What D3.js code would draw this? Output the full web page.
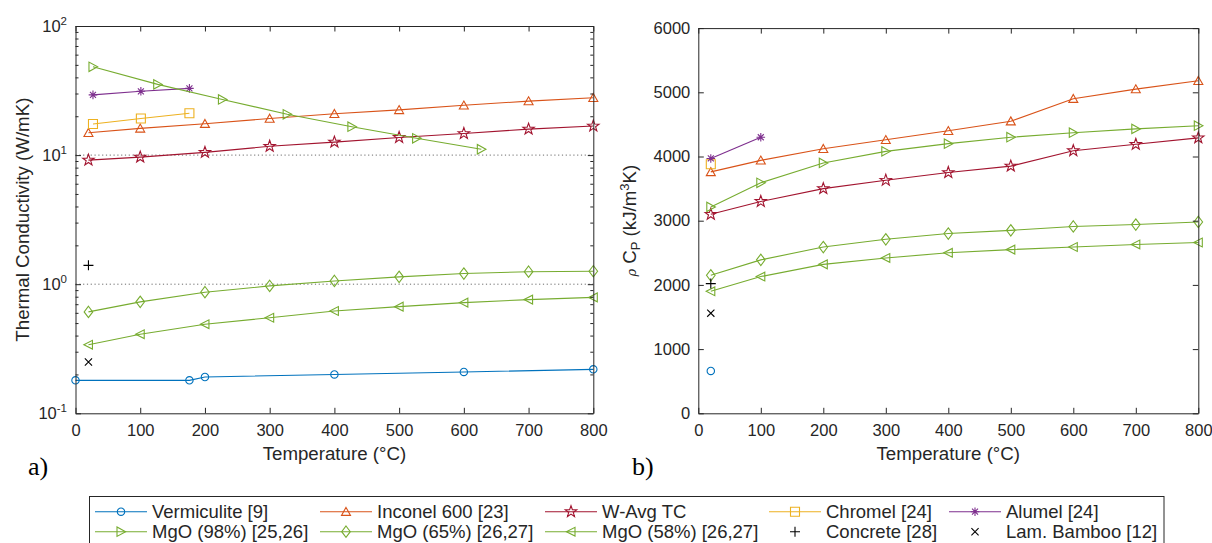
<!DOCTYPE html>
<html>
<head>
<meta charset="utf-8">
<script src="https://cdn.jsdelivr.net/npm/d3@7"></script>
<style>
  html, body { margin: 0; padding: 0; background: #fff; }
  svg { display: block; }
  text { font-family: "Liberation Sans", Arial, sans-serif; fill: #262626; }
</style>
</head>
<body>
<svg id="chart" width="1212" height="543"></svg>
<script>
// ---------------- DATA ----------------
const temps = [20, 100, 200, 300, 400, 500, 600, 700, 800];
const xTickValues = [0, 100, 200, 300, 400, 500, 600, 700, 800];
const kTickValues = [0.1, 1, 10, 100];
const kTickExponents = ["-1", "0", "1", "2"];
const cpTickValues = [0, 1000, 2000, 3000, 4000, 5000, 6000];

// (a) Thermal conductivity (W/mK)
const vermiculiteT_k = [0, 176, 200, 400, 600, 800];
const vermiculiteK = [0.18, 0.18, 0.191, 0.200, 0.209, 0.219];
const inconelK = [14.9, 16.1, 17.5, 19.2, 20.9, 22.4, 24.3, 26.2, 27.8];
const wavgK = [9.15, 9.65, 10.5, 11.7, 12.6, 13.7, 14.7, 15.9, 16.8];
const chromelT_k = [27, 101, 176];
const chromelK = [17.4, 19.2, 21.1];
const alumelT_k = [27, 101, 176];
const alumelK = [29.3, 31.2, 32.9];
const mgo98T_k = [27, 127, 227, 327, 427, 527, 627];
const mgo98K = [48.3, 35.3, 27.0, 20.7, 16.6, 13.5, 11.1];
const mgo65K = [0.61, 0.73, 0.867, 0.97, 1.06, 1.14, 1.21, 1.25, 1.26];
const mgo58K = [0.34, 0.41, 0.49, 0.55, 0.62, 0.67, 0.72, 0.76, 0.79];
const concreteT = [20];
const concreteK = [1.4];
const bambooT = [20];
const bambooK = [0.25];

// (b) Volumetric heat capacity rho*Cp (kJ/m3K)
const vermiculiteT_c = [20];
const vermiculiteCp = [660];
const inconelCp = [3760, 3940, 4120, 4260, 4400, 4550, 4900, 5050, 5180];
const wavgCp = [3100, 3300, 3500, 3630, 3750, 3850, 4090, 4190, 4290];
const chromelT_c = [20];
const chromelCp = [3880];
const alumelT_c = [20, 100];
const alumelCp = [3970, 4300];
const mgo98Cp = [3215, 3590, 3900, 4080, 4200, 4300, 4370, 4430, 4480];
const mgo65Cp = [2150, 2390, 2590, 2710, 2800, 2850, 2910, 2940, 2980];
const mgo58Cp = [1900, 2130, 2320, 2420, 2500, 2550, 2590, 2630, 2660];
const concreteCp = [2020];
const bambooCp = [1560];

const names = ["Vermiculite [9]", "Inconel 600 [23]", "W-Avg TC", "Chromel [24]", "Alumel [24]",
               "MgO (98%) [25,26]", "MgO (65%) [26,27]", "MgO (58%) [26,27]", "Concrete [28]", "Lam. Bamboo [12]"];
const colors = ["#0072BD", "#D95319", "#A2142F", "#EDB120", "#7E2F8E",
                "#77AC30", "#77AC30", "#77AC30", "#000000", "#000000"];
const markers = ["o", "^", "p", "s", "*", ">", "d", "<", "+", "x"];
const hasLine = [true, true, true, true, true, true, true, true, false, false];

const zip = (t, v) => t.map((d, i) => ({ t: d, v: v[i] }));
const seriesK = [
  zip(vermiculiteT_k, vermiculiteK), zip(temps, inconelK), zip(temps, wavgK),
  zip(chromelT_k, chromelK), zip(alumelT_k, alumelK), zip(mgo98T_k, mgo98K),
  zip(temps, mgo65K), zip(temps, mgo58K), zip(concreteT, concreteK), zip(bambooT, bambooK)
];
const seriesCp = [
  zip(vermiculiteT_c, vermiculiteCp), zip(temps, inconelCp), zip(temps, wavgCp),
  zip(chromelT_c, chromelCp), zip(alumelT_c, alumelCp), zip(temps, mgo98Cp),
  zip(temps, mgo65Cp), zip(temps, mgo58Cp), zip(concreteT, concreteCp), zip(bambooT, bambooCp)
];

// ---------------- MARKERS ----------------
function markerPath(m) {
  switch (m) {
    case "o": { const r = 3.7; return `M${r},0A${r},${r} 0 1,1 ${-r},0A${r},${r} 0 1,1 ${r},0Z`; }
    case "^": return "M0,-4.3L4.5,3.7L-4.5,3.7Z";
    case ">": return "M4.6,0L-4,-4.7L-4,4.7Z";
    case "<": return "M-4.6,0L4,-4.4L4,4.4Z";
    case "d": return "M0,-5.7L4.3,0L0,5.7L-4.3,0Z";
    case "s": return "M-4.5,-4.5H4.5V4.5H-4.5Z";
    case "p": {
      let d = "";
      for (let i = 0; i < 10; i++) {
        const r = i % 2 === 0 ? 6 : 2.4;
        const a = -Math.PI / 2 + i * Math.PI / 5;
        d += (i === 0 ? "M" : "L") + (r * Math.cos(a)).toFixed(2) + "," + (r * Math.sin(a)).toFixed(2);
      }
      return d + "Z";
    }
    case "*": { const r = 4.3, q = 3.0;
      return `M0,${-r}V${r}M${-r},0H${r}M${-q},${-q}L${q},${q}M${-q},${q}L${q},${-q}`; }
    case "+": return "M0,-5V5M-5,0H5";
    case "x": return "M-3.6,-3.6L3.6,3.6M-3.6,3.6L3.6,-3.6";
  }
}

const svg = d3.select("#chart");
const AX = "#262626";

function styleAxis(sel) {
  sel.selectAll(".domain").attr("stroke", AX).attr("stroke-width", 1);
  sel.selectAll(".tick line").attr("stroke", AX).attr("stroke-width", 1);
  sel.selectAll(".tick text").attr("fill", AX).style("font-size", "16.5px")
    .style("font-family", '"Liberation Sans", Arial, sans-serif');
}

function drawPanel(x, y, series, isLog) {
  const g = svg.append("g");
  const [y0, y1] = y.range();
  const [x0, x1] = x.range();

  // dotted reference lines (log panel)
  if (isLog) {
    g.selectAll(".refline").data([1, 10]).join("line")
      .attr("x1", x0).attr("x2", x1)
      .attr("y1", d => y(d)).attr("y2", d => y(d))
      .attr("stroke", "#6b6b6b").attr("stroke-width", 1)
      .attr("stroke-dasharray", "1.2,2.6");
  }

  // series
  series.forEach((data, i) => {
    if (hasLine[i] && data.length > 1) {
      g.append("path").datum(data)
        .attr("fill", "none").attr("stroke", colors[i]).attr("stroke-width", 1.1)
        .attr("d", d3.line().x(d => x(d.t)).y(d => y(d.v)));
    }
    g.append("g").selectAll("path").data(data).join("path")
      .attr("transform", d => `translate(${x(d.t)},${y(d.v)})`)
      .attr("d", markerPath(markers[i]))
      .attr("fill", "none").attr("stroke", colors[i]).attr("stroke-width", 1.1);
  });

  // axes
  const bottom = g.append("g").attr("transform", `translate(0,${y0})`)
    .call(d3.axisBottom(x).tickValues(xTickValues).tickSizeInner(-5.5).tickSizeOuter(0).tickPadding(11)
      .tickFormat(d3.format("d")));
  styleAxis(bottom);
  const top = g.append("g").attr("transform", `translate(0,${y1})`)
    .call(d3.axisTop(x).tickValues(xTickValues).tickSizeInner(-5.5).tickSizeOuter(0).tickFormat(""));
  styleAxis(top);

  let left, right;
  if (isLog) {
    left = g.append("g").attr("transform", `translate(${x0},0)`)
      .call(d3.axisLeft(y).tickValues(kTickValues).tickSizeInner(-5.5).tickSizeOuter(0).tickPadding(8.5)
        .tickFormat(() => "10"));
    left.selectAll(".tick text").each(function (d, i) {
      d3.select(this).append("tspan").attr("dy", "-7").style("font-size", "11.5px").text(kTickExponents[i]);
    });
    right = g.append("g").attr("transform", `translate(${x1},0)`)
      .call(d3.axisRight(y).tickValues(kTickValues).tickSizeInner(-5.5).tickSizeOuter(0).tickFormat(""));
    // minor ticks
    const minor = [];
    [0.1, 1, 10].forEach(b => { for (let k = 2; k <= 9; k++) minor.push(b * k); });
    const ml = g.append("g").attr("transform", `translate(${x0},0)`)
      .call(d3.axisLeft(y).tickValues(minor).tickSizeInner(-3).tickSizeOuter(0).tickFormat(""));
    ml.select(".domain").remove(); styleAxis(ml);
    const mr = g.append("g").attr("transform", `translate(${x1},0)`)
      .call(d3.axisRight(y).tickValues(minor).tickSizeInner(-3).tickSizeOuter(0).tickFormat(""));
    mr.select(".domain").remove(); styleAxis(mr);
  } else {
    left = g.append("g").attr("transform", `translate(${x0},0)`)
      .call(d3.axisLeft(y).tickValues(cpTickValues).tickSizeInner(-5.5).tickSizeOuter(0).tickPadding(8)
        .tickFormat(d3.format("d")));
    right = g.append("g").attr("transform", `translate(${x1},0)`)
      .call(d3.axisRight(y).tickValues(cpTickValues).tickSizeInner(-5.5).tickSizeOuter(0).tickFormat(""));
  }
  styleAxis(left); styleAxis(right);

  // x label
  g.append("text").attr("x", (x0 + x1) / 2).attr("y", 459.5).attr("text-anchor", "middle")
    .style("font-size", "18.7px").text("Temperature (°C)");
  return g;
}

// ---------------- PANEL A ----------------
const xA = d3.scaleLinear().domain([0, 800]).range([75.5, 593.3]);
const yA = d3.scaleLog().domain([0.1, 100]).range([413.3, 26]);
drawPanel(xA, yA, seriesK, true);
svg.append("text").attr("transform", `translate(29,${(413.3 + 26) / 2}) rotate(-90)`)
  .attr("text-anchor", "middle").style("font-size", "18.7px").text("Thermal Conductivity (W/mK)");

// ---------------- PANEL B ----------------
const xB = d3.scaleLinear().domain([0, 800]).range([698.3, 1198.3]);
const yB = d3.scaleLinear().domain([0, 6000]).range([413.3, 28.1]);
drawPanel(xB, yB, seriesCp, false);
const yl = svg.append("text").attr("transform", `translate(636,${(413.3 + 28.1) / 2}) rotate(-90)`)
  .attr("text-anchor", "middle").style("font-size", "18.7px");
yl.append("tspan").style("font-style", "italic").style("font-family", '"DejaVu Serif", serif')
  .style("font-size", "13px").text("ρ");
yl.append("tspan").text(" C");
yl.append("tspan").attr("dy", "4").style("font-size", "13px").text("P");
yl.append("tspan").attr("dy", "-4").text(" (kJ/m");
yl.append("tspan").attr("dy", "-7").style("font-size", "13px").text("3");
yl.append("tspan").attr("dy", "7").text("K)");

// panel letters
svg.append("text").attr("x", 28).attr("y", 475).style("font-family", '"Liberation Serif", "Times New Roman", serif')
  .style("font-size", "26px").style("fill", "#000").text("a)");
svg.append("text").attr("x", 632).attr("y", 475).style("font-family", '"Liberation Serif", "Times New Roman", serif')
  .style("font-size", "26px").style("fill", "#000").text("b)");

// ---------------- LEGEND ----------------
const legend = svg.append("g");
legend.append("rect").attr("x", 89.5).attr("y", 496.5).attr("width", 1074.5).attr("height", 80)
  .attr("fill", "#fff").attr("stroke", AX).attr("stroke-width", 1);
const colX = [152, 377, 602, 826, 1006];
const rowY = [511.7, 531.7];
names.forEach((name, i) => {
  const col = i % 5, row = Math.floor(i / 5);
  const tx = colX[col], cy = rowY[row];
  const cx = tx - 31;
  const item = legend.append("g");
  if (hasLine[i]) {
    item.append("line").attr("x1", tx - 57).attr("x2", tx - 5).attr("y1", cy).attr("y2", cy)
      .attr("stroke", colors[i]).attr("stroke-width", 1.1);
  }
  item.append("path").attr("transform", `translate(${cx},${cy})`).attr("d", markerPath(markers[i]))
    .attr("fill", "none").attr("stroke", colors[i]).attr("stroke-width", 1.1);
  item.append("text").attr("x", tx).attr("y", cy + 6.5).style("font-size", "18.5px").text(name);
});
</script>
</body>
</html>
